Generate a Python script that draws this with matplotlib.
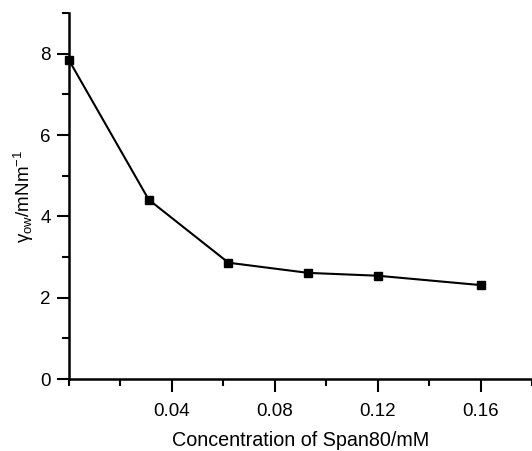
import matplotlib
matplotlib.use("Agg")
import matplotlib.pyplot as plt
from matplotlib.ticker import MultipleLocator, FixedLocator

plt.rcParams['font.family'] = ['Liberation Sans', 'DejaVu Sans']
plt.rcParams['mathtext.fontset'] = 'custom'
plt.rcParams['mathtext.rm'] = 'Liberation Sans'
plt.rcParams['mathtext.it'] = 'Liberation Sans'

conc = [0.0, 0.031, 0.062, 0.093, 0.12, 0.16]
gamma = [7.84, 4.41, 2.86, 2.61, 2.54, 2.31]
xticks = [0.04, 0.08, 0.12, 0.16]
xticklabels = ["0.04", "0.08", "0.12", "0.16"]
yticks = [0, 2, 4, 6, 8]

fig = plt.figure(figsize=(5.32, 4.51), dpi=100)
ax = fig.add_axes([0.1297, 0.1596, 0.8703, 0.8115])
ax.plot(conc, gamma, color='black', lw=1.5, marker='s', ms=6, mfc='black', mec='black', clip_on=False)
ax.set_xlim(0, 0.18)
ax.set_ylim(0, 9)
ax.xaxis.set_major_locator(FixedLocator(xticks))
ax.set_xticklabels(xticklabels)
ax.xaxis.set_minor_locator(MultipleLocator(0.02))
ax.yaxis.set_major_locator(FixedLocator(yticks))
ax.yaxis.set_minor_locator(MultipleLocator(1))
for s in ['top', 'right']:
    ax.spines[s].set_visible(False)
for s in ['left', 'bottom']:
    ax.spines[s].set_linewidth(1.8)
ax.tick_params(which='major', direction='out', length=9, width=1.5, labelsize=13.5)
ax.tick_params(which='minor', direction='out', length=5, width=1.5)
ax.tick_params(axis='x', which='major', pad=8)
ax.tick_params(axis='y', which='major', pad=4)
ax.set_xlabel("Concentration of Span80/mM", fontsize=14.2, labelpad=8)
ax.set_ylabel(r"$\gamma_{ow}$/mNm$^{-1}$", fontsize=13.5, labelpad=3)
fig.savefig("out.png", dpi=100)
